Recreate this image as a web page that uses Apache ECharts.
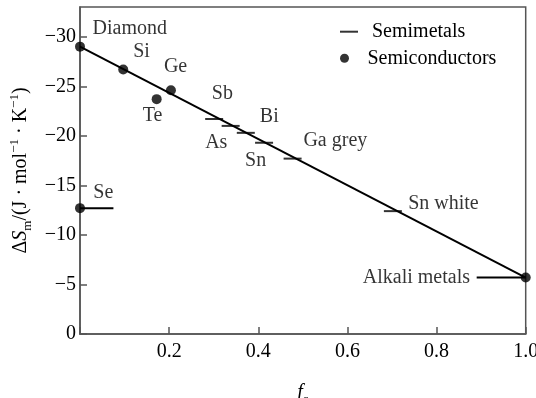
<!DOCTYPE html>
<html>
<head>
<meta charset="utf-8">
<script src="https://cdn.jsdelivr.net/npm/echarts@6/dist/echarts.min.js"></script>
<style>html,body{margin:0;padding:0;background:#fff;}#c{width:536px;height:398px;}</style>
</head>
<body>
<div id="c"></div>
<script>
// ---- data ----
const semiconductorNames = ['Diamond', 'Si', 'Ge', 'Te', 'Se', 'Alkali metals'];
const semiconductorFc = [0, 0.097, 0.204, 0.172, 0, 1.0];
const semiconductorDS = [-29.0, -26.7, -24.6, -23.7, -12.7, -5.7];

const semimetalNames = ['Sb', 'As', 'Bi', 'Sn', 'Ga grey', 'Sn white'];
const semimetalFc = [0.301, 0.338, 0.372, 0.413, 0.477, 0.702];
const semimetalDS = [-21.7, -21.0, -20.3, -19.3, -17.7, -12.4];

const fitFc = [0, 1.0];
const fitDS = [-29.0, -5.7];

const seRangeFc = [0, 0.075];
const seRangeDS = [-12.7, -12.7];
const alkaliRangeFc = [0.89, 1.0];
const alkaliRangeDS = [-5.7, -5.7];

const xTicks = [0.2, 0.4, 0.6, 0.8, 1.0];
const yTicks = [-30, -25, -20, -15, -10, -5, 0];

// ---- label placement (style, not data) ----
const semiconductorLabelOffset = [[12.6, -17.7], [10, -17.6], [-7, -23.7], [-14, 16.7], [13.3, -15], [-55.7, 0.7]];
const semiconductorLabelAlign = ['left', 'left', 'left', 'left', 'left', 'right'];
const semimetalLabelOffset = [[-2.3, -25.7], [-25.5, 16.7], [14, -16.3], [-19, 18], [10.8, -18.3], [15.3, -7.2]];

const FONT = 'Liberation Serif';
const FS = 20;

function pairs(xs, ys) { return xs.map((x, i) => [x, ys[i]]); }

const labelBase = {
  show: true, position: 'inside', verticalAlign: 'middle',
  color: '#000', fontFamily: FONT, fontSize: FS, textBorderWidth: 0
};

const semiconductorData = semiconductorNames.map((n, i) => ({
  name: n, value: [semiconductorFc[i], semiconductorDS[i]],
  label: Object.assign({}, labelBase, { formatter: n, offset: semiconductorLabelOffset[i], align: semiconductorLabelAlign[i] })
}));
const semimetalData = semimetalNames.map((n, i) => ({
  name: n, value: [semimetalFc[i], semimetalDS[i]],
  label: Object.assign({}, labelBase, { formatter: n, offset: semimetalLabelOffset[i], align: 'left' })
}));

const axisColor = '#555';
const chart = echarts.init(document.getElementById('c'), null, { renderer: 'canvas' });
chart.setOption({
  animation: false,
  backgroundColor: '#fff',
  grid: {
    left: 80, right: 10.3, top: 7, bottom: 64, containLabel: false, outerBoundsMode: 'none',
    show: true, borderColor: axisColor, borderWidth: 1.5, backgroundColor: 'transparent'
  },
  legend: [
    {
      data: [{ name: 'Semimetals', icon: 'rect' }],
      left: 340, top: 21.7, padding: 0, itemWidth: 18, itemHeight: 2,
      textStyle: { fontFamily: FONT, fontSize: FS, color: '#000', padding: [0, 0, 0, 9] },
      selectedMode: false
    },
    {
      data: [{ name: 'Semiconductors', icon: 'circle' }],
      left: 340, top: 48.3, padding: 0, itemWidth: 18, itemHeight: 9,
      textStyle: { fontFamily: FONT, fontSize: FS, color: '#000', padding: [0, 0, 0, 9] },
      selectedMode: false
    }
  ],
  xAxis: {
    type: 'value', min: 0, max: 1, interval: 0.2,
    name: '{it|f}{sub|c}', nameLocation: 'middle', nameGap: 46,
    nameTextStyle: {
      fontFamily: FONT, fontSize: FS, color: '#000',
      rich: {
        it: { fontFamily: FONT, fontSize: FS, fontStyle: 'italic', lineHeight: 26, verticalAlign: 'middle' },
        sub: { fontFamily: FONT, fontSize: 13, lineHeight: 13, verticalAlign: 'bottom' }
      }
    },
    axisLine: { show: true, lineStyle: { color: axisColor, width: 1.5 } },
    axisTick: { show: true, inside: true, length: 7, lineStyle: { color: axisColor, width: 1.5 } },
    axisLabel: {
      fontFamily: FONT, fontSize: FS, color: '#000', margin: 8,
      formatter: v => (xTicks.some(t => Math.abs(t - v) < 1e-9) ? v.toFixed(1) : '')
    },
    splitLine: { show: false }
  },
  yAxis: {
    type: 'value', inverse: true, min: -33, max: 0,
    name: '{d|Δ}{it|S}{sub|m}{d|/(J · mol}{sup|−1}{d| · K}{sup|−1}{d|)}',
    nameLocation: 'middle', nameGap: 46,
    nameTextStyle: {
      fontFamily: FONT, fontSize: FS, color: '#000',
      rich: {
        d: { fontFamily: FONT, fontSize: FS, lineHeight: 26, verticalAlign: 'middle' },
        it: { fontFamily: FONT, fontSize: FS, fontStyle: 'italic', lineHeight: 26, verticalAlign: 'middle' },
        sub: { fontFamily: FONT, fontSize: 13, lineHeight: 13, verticalAlign: 'bottom' },
        sup: { fontFamily: FONT, fontSize: 13, lineHeight: 13, verticalAlign: 'top' }
      }
    },
    axisLine: { show: true, lineStyle: { color: axisColor, width: 1.5 } },
    axisTick: { show: true, inside: true, length: 7, customValues: yTicks, lineStyle: { color: axisColor, width: 1.5 } },
    axisLabel: {
      fontFamily: FONT, fontSize: FS, color: '#000', margin: 4, customValues: yTicks,
      formatter: v => (v === 0 ? '0' : '\u2212' + Math.abs(v))
    },
    splitLine: { show: false }
  },
  series: [
    {
      name: 'fit', type: 'line', data: pairs(fitFc, fitDS), symbol: 'none', silent: true,
      lineStyle: { color: '#000', width: 2 }, clip: false, z: 2
    },
    {
      name: 'SeRange', type: 'line', data: pairs(seRangeFc, seRangeDS), symbol: 'none', silent: true,
      lineStyle: { color: '#000', width: 2 }, clip: false, z: 2
    },
    {
      name: 'AlkaliRange', type: 'line', data: pairs(alkaliRangeFc, alkaliRangeDS), symbol: 'none', silent: true,
      lineStyle: { color: '#000', width: 2 }, clip: false, z: 2
    },
    {
      name: 'Semimetals', type: 'scatter', data: semimetalData, symbol: 'rect', symbolSize: [18, 2],
      itemStyle: { color: '#000' }, clip: false, z: 3
    },
    {
      name: 'Semiconductors', type: 'scatter', data: semiconductorData, symbol: 'circle', symbolSize: 10,
      itemStyle: { color: '#000' }, clip: false, z: 4
    }
  ]
});
</script>
</body>
</html>
